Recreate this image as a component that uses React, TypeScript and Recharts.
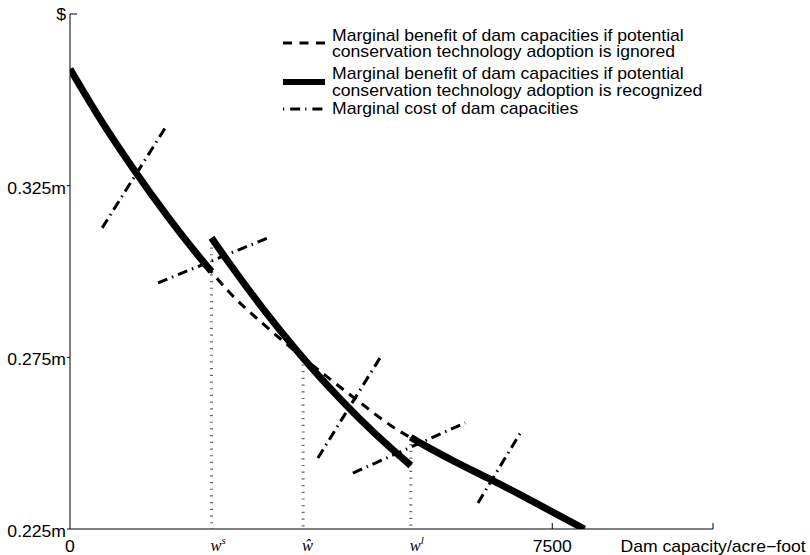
import { LineChart, Line, XAxis, YAxis, Legend } from 'recharts';

// ── Marginal benefit vs marginal cost of dam capacity ─────────
// one numeric x axis (acre-foot), y in millions of dollars

const SANS = '"Liberation Sans", Arial, Helvetica, sans-serif';
const SERIF = '"Liberation Serif", "DejaVu Serif", serif';

// the three marked capacities
const wS = 2200;
const wHat = 3625;
const wL = 5300;

const xTicks = [0, wS, wHat, wL, 7500, 10000];
const yTicks = [0.225, 0.275, 0.325, 0.375];

// marginal benefit, conservation technology adoption ignored
const ignoredX = [0, 500, 1000, 1500, 2000, 2500, 3000, 3500, 4000, 4500, 5000, 5500, 6000, 6500, 7000, 7500, 8000];
const ignoredY = [0.359, 0.3435, 0.3295, 0.3165, 0.3045, 0.2935, 0.2848, 0.2768, 0.2693, 0.262, 0.255, 0.2495, 0.2445, 0.2398, 0.235, 0.23, 0.225];

// marginal benefit, adoption recognized (three pieces)
const recLowX = [0, 500, 1000, 1500, 2000, 2200];
const recLowY = [0.359, 0.3435, 0.3295, 0.3165, 0.3045, 0.3];
const recMidX = [2200, 2500, 3000, 3500, 4000, 4500, 5000, 5300];
const recMidY = [0.3098, 0.3018, 0.2892, 0.2776, 0.2669, 0.2572, 0.2484, 0.2435];
const recHighX = [5300, 5500, 6000, 6500, 7000, 7500, 8000];
const recHighY = [0.2517, 0.2495, 0.2445, 0.2398, 0.235, 0.23, 0.225];

// marginal cost pieces (start, end)
const costX = [[500, 1510], [1370, 3080], [3855, 4850], [4400, 6145], [6345, 7030]];
const costY = [[0.3127, 0.3427], [0.2967, 0.3098], [0.2457, 0.2757], [0.2413, 0.2559], [0.2326, 0.2538]];

// dotted guides: capacity, top value
const guideX = [wS, wHat, wL];
const guideTop = [0.307, 0.2749, 0.2517];

const legendLabels = [
  ['Marginal benefit of dam capacities if potential', 'conservation technology adoption is ignored'],
  ['Marginal benefit of dam capacities if potential', 'conservation technology adoption is recognized'],
  ['Marginal cost of dam capacities'],
];

const pts = (xs: number[], ys: number[]) => xs.map((x, i) => ({ x, y: ys[i] }));

function Stretched({ x, y, anchor, children, size = 16 }: any) {
  return (
    <g transform={`translate(${x},${y}) scale(1.1,1)`}>
      <text x={0} y={0} textAnchor={anchor} fontFamily={SANS} fontSize={size} fill="#000">
        {children}
      </text>
    </g>
  );
}

function XTick({ x, y, payload }: any) {
  const v = payload.value;
  if (v === wS || v === wHat || v === wL) {
    return (
      <text x={x - 1} y={y + 22} fontFamily={SERIF} fontStyle="italic" fontSize={16.5} fill="#000">
        {v === wHat ? 'ŵ' : 'w'}
        {v === wS && <tspan dy={-7} fontSize={11}>s</tspan>}
        {v === wL && <tspan dy={-7} fontSize={11}>l</tspan>}
      </text>
    );
  }
  const label = v === 10000 ? 'Dam capacity/acre−foot' : String(v);
  return (
    <g>
      {v > 0 && <line x1={x} x2={x} y1={y} y2={y - 6} stroke="#000" />}
      <Stretched x={x} y={y + 23} anchor="middle">{label}</Stretched>
    </g>
  );
}

function YTick({ x, y, payload }: any) {
  const v = payload.value;
  const top = v === 0.375;
  return (
    <g>
      <line x1={x} x2={top ? x + 7 : x - 3} y1={y} y2={y} stroke="#000" />
      <Stretched x={x - 4} y={top ? y + 6 : y + 8} anchor="end">{top ? '$' : `${v}m`}</Stretched>
    </g>
  );
}

function LegendBox() {
  const textX = 332;
  const baselines = [[40.7, 57.4], [79.3, 96], [114.3]];
  return (
    <svg width={810} height={130} style={{ display: 'block' }}>
      <line x1={283} x2={325} y1={43} y2={43} stroke="#000" strokeWidth={3} strokeDasharray="9 7.5" />
      <line x1={283} x2={325} y1={82} y2={82} stroke="#000" strokeWidth={6} />
      <line x1={283} x2={325} y1={109} y2={109} stroke="#000" strokeWidth={3} strokeDasharray="1.2 6 10 5" />
      {legendLabels.map((lines, i) =>
        lines.map((t, j) => (
          <Stretched key={`${i}-${j}`} x={textX} y={baselines[i][j]} anchor="start">{t}</Stretched>
        )),
      )}
    </svg>
  );
}

export default function App() {
  return (
    <div style={{ position: 'absolute', left: 0, top: 0, background: '#fff' }}>
      <LineChart width={810} height={555} margin={{ top: 14, right: 97, left: 0, bottom: 0 }}>
        <XAxis
          dataKey="x"
          type="number"
          domain={[0, 10000]}
          ticks={xTicks}
          allowDataOverflow
          height={26}
          axisLine={{ stroke: '#000' }}
          tickLine={false}
          tickSize={0}
          tickMargin={0}
          tick={<XTick />}
          interval={0}
        />
        <YAxis
          type="number"
          domain={[0.225, 0.375]}
          ticks={yTicks}
          allowDataOverflow
          width={70}
          axisLine={{ stroke: '#000' }}
          tickLine={false}
          tickSize={0}
          tickMargin={0}
          tick={<YTick />}
          interval={0}
        />
        <Legend
          layout="vertical"
          align="center"
          verticalAlign="middle"
          wrapperStyle={{ left: 0, top: 0, width: 810, height: 130 }}
          content={() => <LegendBox />}
        />
        {guideX.map((gx, i) => (
          <Line
            key={`g${i}`}
            data={[{ x: gx, y: guideTop[i] }, { x: gx, y: 0.225 }]}
            dataKey="y"
            type="linear"
            stroke="#666"
            strokeWidth={3}
            strokeDasharray="1.2 5.5"
            dot={false}
            isAnimationActive={false}
          />
        ))}
        {costX.map((cx, i) => (
          <Line
            key={`c${i}`}
            data={pts(cx, costY[i])}
            dataKey="y"
            type="linear"
            stroke="#000"
            strokeWidth={3}
            strokeDasharray="10 5 1.5 5"
            dot={false}
            isAnimationActive={false}
          />
        ))}
        <Line
          data={pts(ignoredX, ignoredY)}
          dataKey="y"
          type="monotone"
          stroke="#000"
          strokeWidth={3}
          strokeDasharray="9 7"
          dot={false}
          isAnimationActive={false}
        />
        <Line data={pts(recLowX, recLowY)} dataKey="y" type="monotone" stroke="#000" strokeWidth={7} dot={false} isAnimationActive={false} />
        <Line data={pts(recMidX, recMidY)} dataKey="y" type="monotone" stroke="#000" strokeWidth={7} dot={false} isAnimationActive={false} />
        <Line data={pts(recHighX, recHighY)} dataKey="y" type="monotone" stroke="#000" strokeWidth={7} dot={false} isAnimationActive={false} />
      </LineChart>
    </div>
  );
}
